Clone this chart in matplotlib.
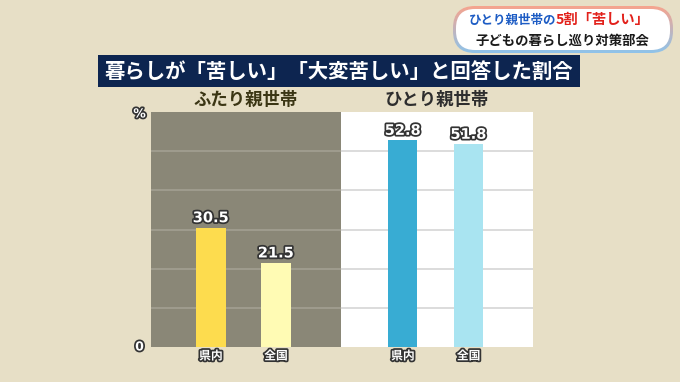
import numpy as np
import matplotlib
matplotlib.use("Agg")
import matplotlib.pyplot as plt
import matplotlib.patheffects as pe
from matplotlib.patches import FancyBboxPatch, Rectangle
from matplotlib.colors import to_rgb

plt.rcParams['font.family'] = ['Noto Sans CJK JP', 'DejaVu Sans']

# ── data ─────────────────────────────────────────────────────────────────────
TITLE = "暮らしが「苦しい」「大変苦しい」と回答した割合"
GROUPS = ["ふたり親世帯", "ひとり親世帯"]
CATEGORIES = ["県内", "全国", "県内", "全国"]
VALUES = [30.5, 21.5, 52.8, 51.8]
CAPTION_BLUE = "ひとり親世帯の"
CAPTION_RED = "5割「苦しい」"
CAPTION_2 = "子どもの暮らし巡り対策部会"

# ── styles ───────────────────────────────────────────────────────────────────
BG = "#e7dfc6"
PANEL_GRAY = "#8a8777"
BAR_COLORS = ["#fddc4e", "#fffbb4", "#38acd3", "#a9e4f1"]
XPOS = [0, 1, 2.95, 3.96]
OUTLINE = [pe.withStroke(linewidth=2.5, foreground="#333333")]

W, H = 680, 382
fig = plt.figure(figsize=(W / 100, H / 100), dpi=100, facecolor=BG)

# background layer in pixel coordinates
bg = fig.add_axes([0, 0, 1, 1])
bg.set_xlim(0, W)
bg.set_ylim(H, 0)
bg.axis("off")
bg.set_facecolor(BG)

# caption box (top right) with gradient frame
outer = FancyBboxPatch((453, 6), 220, 47, boxstyle="round,pad=0,rounding_size=22",
                       facecolor="none", edgecolor="none")
bg.add_patch(outer)
top_c, bot_c = np.array(to_rgb("#f6a48e")), np.array(to_rgb("#8fc3ea"))
grad = np.linspace(0, 1, 64)[:, None, None] * (bot_c - top_c) + top_c
img = bg.imshow(grad, extent=(453, 673, 53, 6), origin="upper", aspect="auto", zorder=2)
img.set_clip_path(outer)
bg.add_patch(FancyBboxPatch((456, 9), 214, 41, boxstyle="round,pad=0,rounding_size=19",
                            facecolor="white", edgecolor="none", zorder=3))
bg.text(556, 20, CAPTION_BLUE, color="#1d5cc4", fontsize=9, fontweight="bold",
        ha="right", va="center", zorder=4)
bg.text(556, 20, CAPTION_RED, color="#e2211b", fontsize=10.3, fontweight="bold",
        ha="left", va="center", zorder=4)
bg.text(562, 41, CAPTION_2, color="#1a1a1a", fontsize=9.6, fontweight="bold",
        ha="center", va="center", zorder=4)

# title banner
bg.add_patch(Rectangle((98, 55), 482, 32, facecolor="#0d2550", edgecolor="none", zorder=2))
bg.text(339, 71, TITLE, color="white", fontsize=14.7, fontweight="bold",
        ha="center", va="center", zorder=3)

# group headers
bg.text(246, 100, GROUPS[0], color="#3b3614", fontsize=12.5, fontweight="bold",
        ha="center", va="center")
bg.text(437, 100, GROUPS[1], color="#2e2e2e", fontsize=12.5, fontweight="bold",
        ha="center", va="center")

# ── chart ────────────────────────────────────────────────────────────────────
left, right, top, bottom = 151, 533, 112, 347
ax = fig.add_axes([left / W, (H - bottom) / H, (right - left) / W, (bottom - top) / H])
ax.set_xlim(-0.92, 4.95)
ax.set_ylim(0, 60)
ax.set_facecolor("white")
for s in ax.spines.values():
    s.set_visible(False)
ax.set_xticks([])
ax.set_yticks([])

split = 2.0
ax.axvspan(-0.92, split, color=PANEL_GRAY, zorder=0, linewidth=0)
for g in range(10, 60, 10):
    ax.hlines(g, -0.92, split, color="#a19e90", linewidth=1.3, zorder=1)
    ax.hlines(g, split, 4.95, color="#d9d9d9", linewidth=1.3, zorder=1)

ax.bar(XPOS, VALUES, width=0.45, color=BAR_COLORS, zorder=2, linewidth=0)

for x, v, c in zip(XPOS, VALUES, CATEGORIES):
    ax.text(x, v + 0.6, f"{v:.1f}", ha="center", va="bottom", color="white",
            fontsize=10.5, fontweight="bold", path_effects=OUTLINE, zorder=3,
            family="DejaVu Sans")
    ax.text(x, -2.3, c, ha="center", va="center", color="white", fontsize=8.5,
            fontweight="bold", path_effects=OUTLINE, clip_on=False, zorder=3)

ax.text(-0.03, 59.5, "%", transform=ax.get_yaxis_transform(), ha="center", va="center",
        color="white", fontsize=9, fontweight="bold", path_effects=OUTLINE,
        family="DejaVu Sans")
ax.text(-0.03, 0, "0", transform=ax.get_yaxis_transform(), ha="center", va="center",
        color="white", fontsize=9, fontweight="bold", path_effects=OUTLINE,
        family="DejaVu Sans")

fig.savefig("out.png", dpi=100, facecolor=BG)
